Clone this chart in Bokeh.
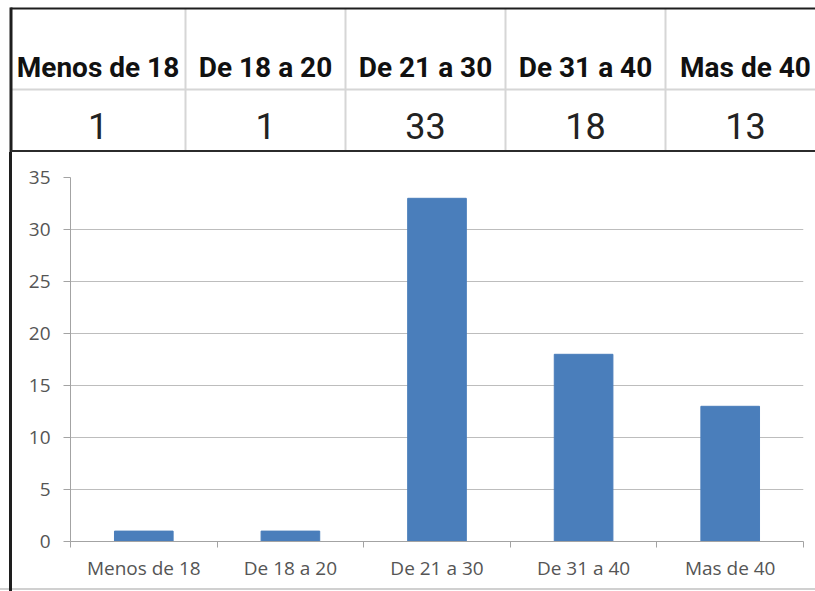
from bokeh.plotting import figure
from bokeh.models import Range1d, FixedTicker
from bokeh.layouts import column, row
from bokeh.embed import file_html
from bokeh.resources import INLINE
from bokeh.core.properties import value

# Age brackets and how many people fall in each
categories = ["Menos de 18", "De 18 a 20", "De 21 a 30", "De 31 a 40", "Mas de 40"]
counts = [1, 1, 33, 18, 13]
y_ticks = [0, 5, 10, 15, 20, 25, 30, 35]

W = 815
TABLE_H = 152
CHART_H = 439

BORDER = "#1e1e1e"
CELL_LINE = "#d6d6d6"
AXIS_GREY = "#a3a3a3"
GRID_GREY = "#bdbdbd"
BAR_BLUE = "#4A7EBB"
LABEL_GREY = "#555555"

# ---- summary table above the chart (pixel coordinates, y pointing down) ----
col_edges = [10, 185, 345, 505, 665, 825]
col_centers = [(a + b) / 2 for a, b in zip(col_edges[:-1], col_edges[1:])]

t = figure(width=W, height=TABLE_H,
           x_range=Range1d(0, W), y_range=Range1d(TABLE_H, 0),
           x_axis_location=None, y_axis_location=None,
           min_border=0, outline_line_color=None,
           output_backend="svg", toolbar_location=None)
t.grid.visible = False

inner = col_edges[1:-1]
t.segment(x0=inner, y0=[8] * len(inner), x1=inner, y1=[150] * len(inner),
          line_color=CELL_LINE, line_width=2)
t.segment(x0=[10], y0=[89], x1=[W], y1=[89], line_color=CELL_LINE, line_width=2)
t.segment(x0=[10], y0=[8], x1=[W], y1=[8], line_color=BORDER, line_width=2)
t.segment(x0=[10.5], y0=[7], x1=[10.5], y1=[TABLE_H], line_color=BORDER, line_width=3)
t.segment(x0=[10], y0=[151], x1=[W], y1=[151], line_color="#2b2b2b", line_width=3)

t.text(x=col_centers, y=[67] * len(categories), text=categories,
       text_align="center", text_baseline="alphabetic",
       text_font=value("Roboto"), text_font_style="bold",
       text_font_size="28px", text_color="#111111")
t.text(x=col_centers, y=[125] * len(counts), text=[str(c) for c in counts],
       text_align="center", text_baseline="alphabetic",
       text_font=value("Roboto"),
       text_font_size="36px", text_color="#222222")

# ---- column chart: one unit-wide slot per age bracket ----
n = len(categories)
slot_mid = [i + 0.5 for i in range(n)]

# the page background behind the chart carries the left frame edge and the
# faint bottom rule; the canvas border area is left transparent to show it
frame_bg = ("linear-gradient(to right, transparent 9px, #1e1e1e 9px, "
            "#1e1e1e 12px, transparent 12px), "
            "linear-gradient(to bottom, transparent 436px, #d0d0d0 436px, "
            "#d0d0d0 438px, transparent 438px)")

p = figure(width=W, height=CHART_H,
           x_range=Range1d(0, n), y_range=Range1d(0, 35),
           min_border_left=70, min_border_right=12,
           min_border_top=25, min_border_bottom=50,
           outline_line_color=None,
           border_fill_color=None, background_fill_color="white",
           styles={"background": frame_bg},
           output_backend="svg", toolbar_location=None)

p.vbar(x=slot_mid, top=counts, bottom=0, width=0.4,
       fill_color=BAR_BLUE, line_color=BAR_BLUE)

# labels in the middle of each slot, small ticks on the slot boundaries
xax = p.xaxis[0]
xax.ticker = FixedTicker(ticks=slot_mid, minor_ticks=list(range(n + 1)))
xax.major_label_overrides = {m: c for m, c in zip(slot_mid, categories)}
xax.major_tick_out = 0
xax.major_tick_in = 0
xax.major_tick_line_color = None
xax.minor_tick_out = 6
xax.minor_tick_in = 0
xax.minor_tick_line_color = AXIS_GREY
xax.axis_line_color = AXIS_GREY
xax.major_label_standoff = 7
xax.major_label_text_font = "Open Sans"
xax.major_label_text_font_size = "19px"
xax.major_label_text_color = LABEL_GREY

yax = p.yaxis[0]
yax.ticker = FixedTicker(ticks=y_ticks)
yax.major_tick_out = 7
yax.major_tick_in = 0
yax.minor_tick_line_color = None
yax.major_tick_line_color = AXIS_GREY
yax.axis_line_color = AXIS_GREY
yax.major_label_standoff = 13
yax.major_label_text_font = "Open Sans"
yax.major_label_text_font_size = "19px"
yax.major_label_text_color = LABEL_GREY

p.xgrid.visible = False
p.ygrid.ticker = FixedTicker(ticks=y_ticks)
p.ygrid.grid_line_color = GRID_GREY
p.ygrid.grid_line_width = 1

# the chart sits in its own row so its frame is not lined up with the table's
layout = column(t, row(p, spacing=0), spacing=0)

open("out.html", "w").write(file_html(layout, INLINE))
